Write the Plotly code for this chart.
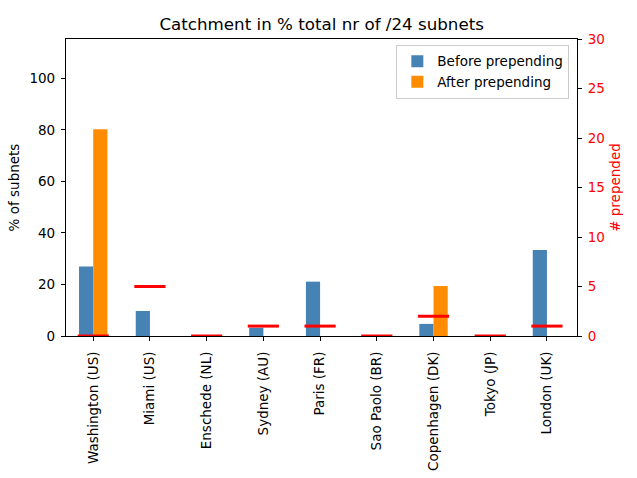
import plotly.graph_objects as go

categories = ["Washington (US)", "Miami (US)", "Enschede (NL)", "Sydney (AU)", "Paris (FR)",
              "Sao Paolo (BR)", "Copenhagen (DK)", "Tokyo (JP)", "London (UK)"]
before = [27.0, 9.7, 0.0, 3.2, 21.1, 0.0, 4.7, 0.0, 33.4]
after = [80.3, 0.0, 0.0, 0.0, 0.0, 0.0, 19.4, 0.0, 0.0]
prepended = [0, 5, 0, 1, 1, 0, 2, 0, 1]

BW = 0.25
LW = 0.275
idx = list(range(len(categories)))

fig = go.Figure()
fig.add_trace(go.Bar(x=[i - BW / 2 for i in idx], y=before, width=BW, name="Before prepending",
                     marker=dict(color="#4682B4", line=dict(width=0))))
fig.add_trace(go.Bar(x=[i + BW / 2 for i in idx], y=after, width=BW, name="After prepending",
                     marker=dict(color="#FF8C00", line=dict(width=0))))

lx, ly = [], []
for i, v in zip(idx, prepended):
    lx += [i - LW, i + LW, None]
    ly += [v, v, None]
fig.add_trace(go.Scatter(x=lx, y=ly, yaxis="y2", mode="lines", line=dict(color="red", width=3),
                         showlegend=False, hoverinfo="skip"))

font = "DejaVu Sans"
fig.update_layout(
    width=637, height=478,
    margin=dict(l=66, r=60, t=39, b=142, autoexpand=False),
    paper_bgcolor="white", plot_bgcolor="white",
    font=dict(family=font, size=14, color="black"),
    title=dict(text="Catchment in % total nr of /24 subnets", x=0.505, xanchor="center",
               y=0.95, yanchor="middle", font=dict(size=16.7)),
    barmode="overlay",
    xaxis=dict(range=[-0.48, 8.53], tickmode="array", tickvals=idx, ticktext=categories,
               tickangle=-90, ticks="outside", ticklen=4, tickcolor="black",
               showline=True, linecolor="black", linewidth=1.2, mirror=True, automargin=False,
               ticklabelstandoff=5, showgrid=False, zeroline=False,
               tickfont=dict(size=13.5)),
    yaxis=dict(range=[0, 115.3], tickvals=[0, 20, 40, 60, 80, 100], ticks="outside", ticklen=4,
               tickcolor="black", showline=True, linecolor="black", linewidth=1.2, mirror=True,
               automargin=False,
               showgrid=False, zeroline=False, ticklabelstandoff=3, tickfont=dict(size=13.5),
               title=dict(text="% of subnets", standoff=6, font=dict(size=13.5))),
    yaxis2=dict(range=[0, 30], overlaying="y", side="right", tickvals=[0, 5, 10, 15, 20, 25, 30],
                ticks="outside", ticklen=4, tickcolor="black", tickfont=dict(color="red", size=13.5),
                showgrid=False, zeroline=False, showline=False, ticklabelstandoff=3, automargin=False,
                title=dict(text="# prepended", font=dict(color="red", size=13.5), standoff=6)),
    legend=dict(x=0.985, xanchor="right", y=0.98, yanchor="top", bgcolor="rgba(255,255,255,0.8)",
                bordercolor="#cccccc", borderwidth=1, font=dict(size=13.5),
                traceorder="normal"),
)

fig.write_html("out.html")
